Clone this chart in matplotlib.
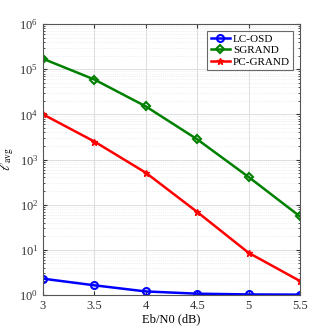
import matplotlib
matplotlib.use("Agg")
import matplotlib.pyplot as plt
from matplotlib.ticker import LogLocator, NullFormatter

plt.rcParams['font.family'] = ['Liberation Serif', 'DejaVu Serif']
plt.rcParams['mathtext.fontset'] = 'stix'

ebn0 = [3, 3.5, 4, 4.5, 5, 5.5]
lc_osd = [2.3, 1.64, 1.2, 1.07, 1.03, 1.02]
sgrand = [1.7e5, 5.9e4, 1.5e4, 2.8e3, 410, 55]
pc_grand = [1.0e4, 2.5e3, 510, 69, 8.6, 2.04]
xticks = [3, 3.5, 4, 4.5, 5, 5.5]
xticklabels = ['3', '3.5', '4', '4.5', '5', '5.5']

fig = plt.figure(figsize=(3.32, 3.32), dpi=100)
ax = fig.add_axes([0.1295, 0.1114, 0.7741, 0.8163])

ax.semilogy(ebn0, lc_osd, '-o', color='blue', lw=1.8, ms=5, mfc='none', mew=1.5, label='LC-OSD')
ax.semilogy(ebn0, sgrand, '-D', color='green', lw=1.8, ms=4.5, mfc='none', mew=1.5, label='SGRAND')
ax.semilogy(ebn0, pc_grand, '-*', color='red', lw=1.8, ms=4.5, mew=1.0, label='PC-GRAND')

ax.set_xlim(3, 5.5)
ax.set_ylim(1, 1e6)
ax.set_xticks(xticks)
ax.set_xticklabels(xticklabels)
ax.yaxis.set_major_locator(LogLocator(base=10, numticks=10))
ax.yaxis.set_minor_locator(LogLocator(base=10, subs=range(2, 10), numticks=100))
ax.yaxis.set_minor_formatter(NullFormatter())

ax.grid(True, which='major', color='#dddddd', lw=0.7)
ax.grid(True, which='minor', color='#e4e4e4', lw=0.5, ls=':')
ax.tick_params(which='both', direction='in', top=True, right=True, labelsize=9, colors='#333333')
ax.tick_params(which='major', length=3)
ax.tick_params(which='minor', length=1.5)
for s in ax.spines.values():
    s.set_color('#555555')
    s.set_linewidth(0.8)

ax.set_xlabel('Eb/N0 (dB)', fontsize=9, labelpad=1)
ax.set_ylabel(r'$\ell_{\rm avg}$', fontsize=10, labelpad=2)

leg = ax.legend(loc='upper right', fontsize=8, frameon=True, fancybox=False,
                edgecolor='#444444', borderpad=0.3, labelspacing=0.15, handlelength=1.7,
                handletextpad=0.3, borderaxespad=0.6)
leg.get_frame().set_linewidth(0.8)

fig.savefig('out.png', dpi=100)
